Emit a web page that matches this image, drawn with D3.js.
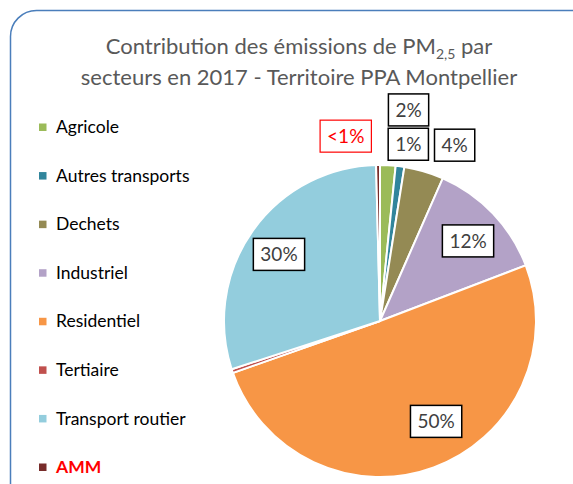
<!DOCTYPE html>
<html>
<head>
<meta charset="utf-8">
<script src="https://cdn.jsdelivr.net/npm/d3@7"></script>
<style>
  body { margin: 0; background: #fff; }
  text { font-family: Lato, "Open Sans", sans-serif; }
</style>
</head>
<body>
<div id="chart"></div>
<script>
var width = 573;
var height = 484;

// data (share of PM2,5, %)
var sectors = ["Agricole", "Autres transports", "Dechets", "Industriel", "Residentiel", "Tertiaire", "Transport routier", "AMM"];
var shares = [1.6, 0.9, 4.1, 12.6, 50.4, 0.4, 29.6, 0.4];
var colors = ["#9BBB59", "#31859C", "#948A54", "#B3A2C7", "#F79646", "#C0504D", "#93CDDD", "#772C2A"];
var labels = ["2%", "1%", "4%", "12%", "50%", "", "30%", "<1%"];

// label placement (polar: degrees clockwise from top, distance from center)
var labelSpots = [[7.7, 213], [9.1, 179], [23, 191], [47.7, 119], [150.8, 115], null, [303.4, 121], [-10.5, 188]];

var svg = d3.select("#chart")
    .append("svg")
    .attr("width", width)
    .attr("height", height);

// frame
svg.append("rect")
    .attr("x", 10.5)
    .attr("y", 10.5)
    .attr("width", 600)
    .attr("height", 520)
    .attr("rx", 26)
    .attr("fill", "none")
    .attr("stroke", "#4A7EBB")
    .attr("stroke-width", 1.5);

// title
var title = svg.append("text")
    .attr("x", 299)
    .attr("y", 54)
    .attr("text-anchor", "middle")
    .attr("fill", "#595959")
    .style("font-size", "22px");
title.append("tspan").text("Contribution des émissions de PM");
title.append("tspan").attr("dy", 5).style("font-size", "14px").text("2,5");
title.append("tspan").attr("dy", -5).text(" par");

svg.append("text")
    .attr("x", 299)
    .attr("y", 85)
    .attr("text-anchor", "middle")
    .attr("fill", "#595959")
    .style("font-size", "22px")
    .text("secteurs en 2017 - Territoire PPA Montpellier");

// legend
var legendY = d3.scalePoint().domain(sectors).range([127, 467]);
var legend = svg.append("g").selectAll("g")
    .data(sectors)
    .enter()
    .append("g")
    .attr("transform", function(d) { return "translate(39," + legendY(d) + ")"; });

legend.append("rect")
    .attr("x", 0)
    .attr("y", -3.5)
    .attr("width", 7.5)
    .attr("height", 7.5)
    .attr("fill", function(d, i) { return colors[i]; });

legend.append("text")
    .attr("x", 17)
    .attr("dy", "0.35em")
    .style("font-size", "17.5px")
    .style("font-weight", function(d) { return d == "AMM" ? "bold" : "normal"; })
    .attr("fill", function(d) { return d == "AMM" ? "#FF0000" : "#000"; })
    .text(function(d) { return d; });

// pie
var cx = 380, cy = 321, radius = 156;
var pie = d3.pie().sort(null).value(function(d) { return d; });
var arc = d3.arc().innerRadius(0).outerRadius(radius);

var g = svg.append("g").attr("transform", "translate(" + cx + "," + cy + ")");

g.selectAll("path")
    .data(pie(shares))
    .enter()
    .append("path")
    .attr("d", arc)
    .attr("fill", function(d, i) { return colors[i]; })
    .attr("stroke", "#fff")
    .attr("stroke-width", 2);

// labels in boxes
labels.forEach(function(lab, i) {
    if (!lab) return;
    var a = labelSpots[i][0] * Math.PI / 180;
    var r = labelSpots[i][1];
    var x = r * Math.sin(a), y = -r * Math.cos(a);
    var red = lab == "<1%";
    var lg = g.append("g").attr("transform", "translate(" + x + "," + y + ")");
    var box = lg.append("rect");
    var t = lg.append("text")
        .attr("text-anchor", "middle")
        .attr("dy", "0.36em")
        .style("font-size", "19px")
        .attr("fill", red ? "#FF0000" : "#404040")
        .text(lab);
    var bb = t.node().getBBox();
    var w = bb.width + 14;
    box.attr("x", -w / 2)
        .attr("y", -16)
        .attr("width", w)
        .attr("height", 32)
        .attr("fill", "#fff")
        .attr("stroke", red ? "#FF0000" : "#000")
        .attr("stroke-width", red ? 1.2 : 1.5);
});
</script>
</body>
</html>
